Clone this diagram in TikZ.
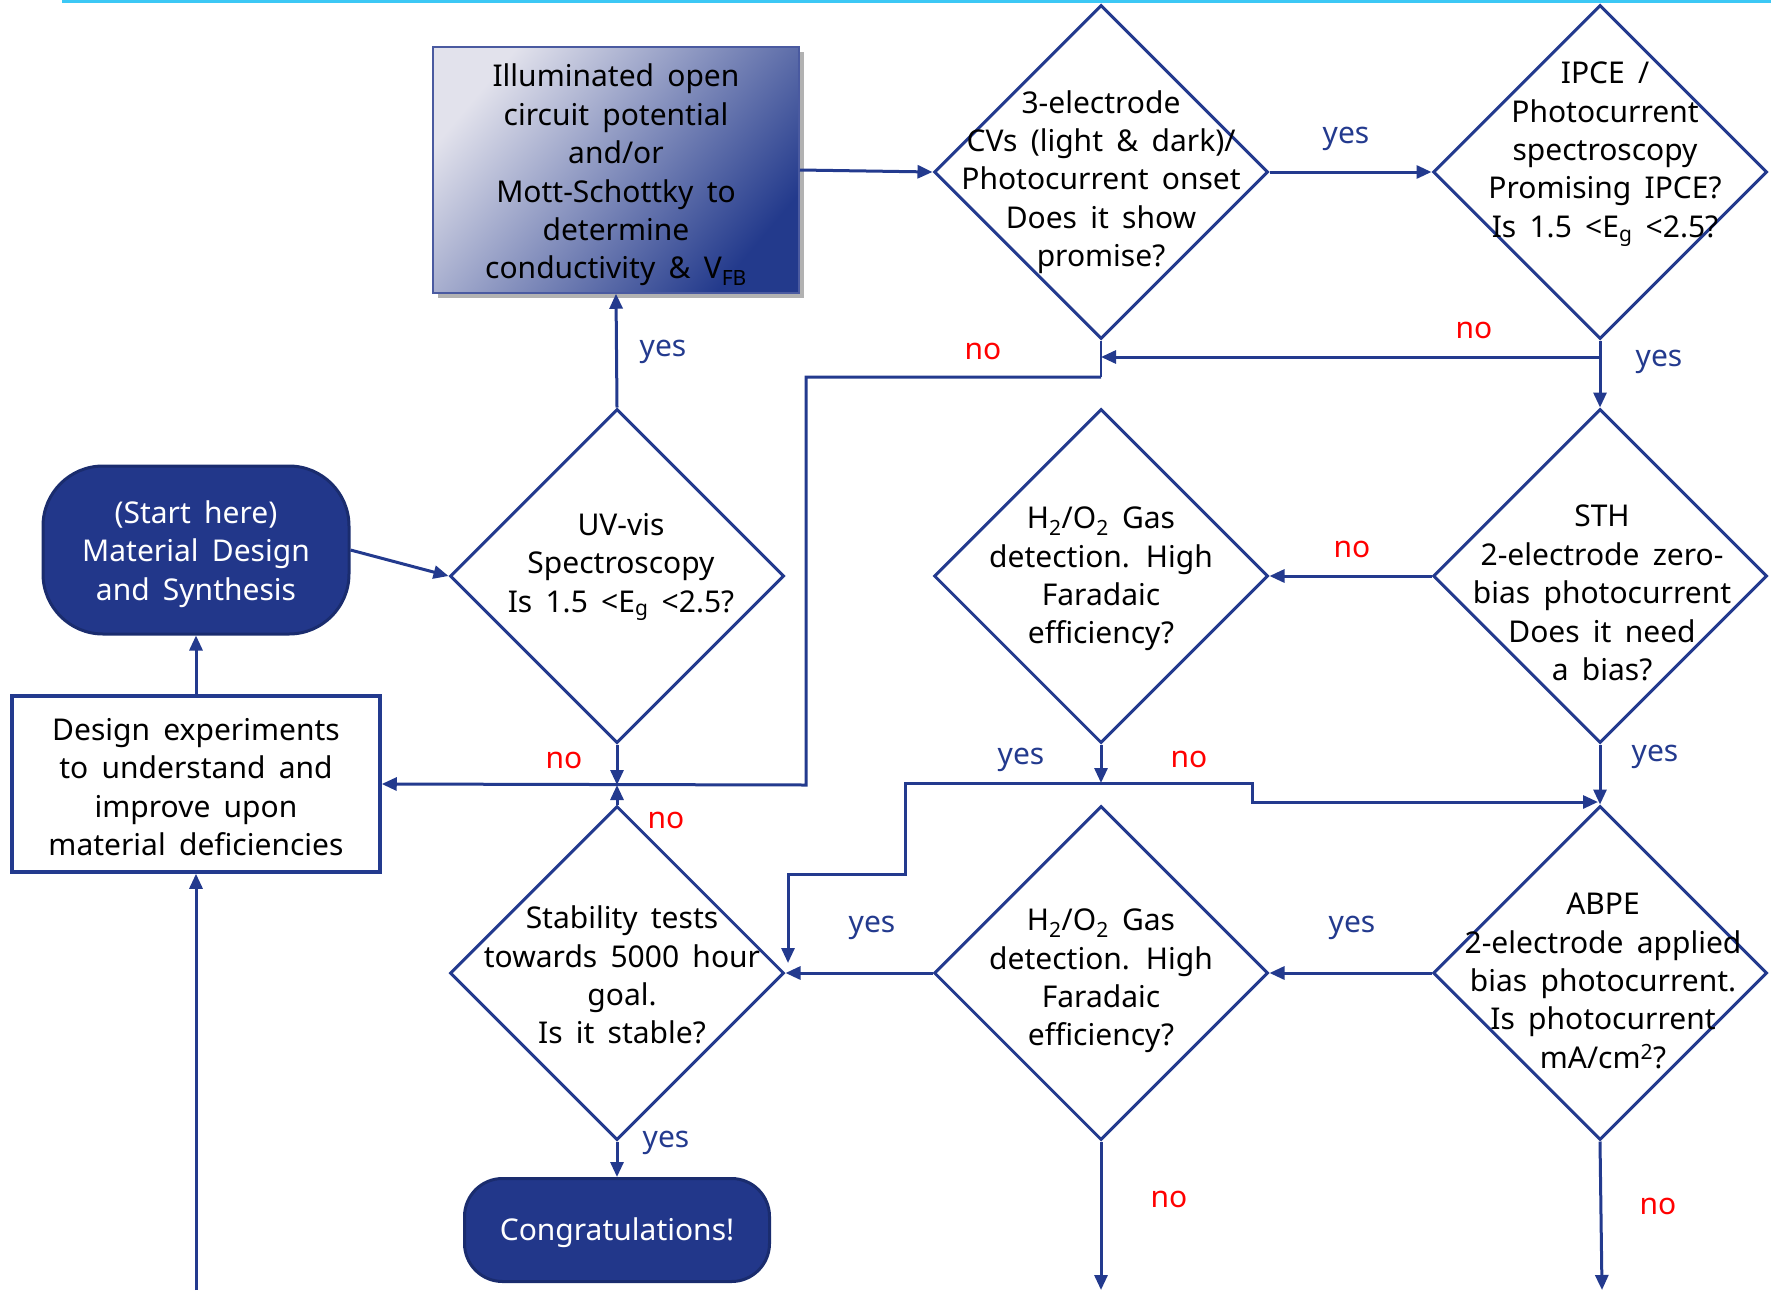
\documentclass[tikz,border=0pt]{standalone}
\usepackage{fontspec}
\setmainfont{Noto Sans}[WordSpace=1.7]
\usetikzlibrary{shapes.geometric,arrows.meta,shadows}
\definecolor{navy}{HTML}{233A8E}
\definecolor{startfill}{HTML}{22378A}
\definecolor{startdraw}{HTML}{1A2C6E}
\definecolor{nored}{HTML}{FF0000}
\definecolor{cyanline}{HTML}{3CC8F5}
\definecolor{gradlight}{HTML}{E2E2EC}
\definecolor{gradmid}{HTML}{B2B4CC}
\definecolor{graddark}{HTML}{233A8C}
\definecolor{gradedge}{HTML}{4A5AA0}
\begin{document}
\begin{tikzpicture}[x=1pt,y=-1pt,
  every node/.style={font=\fontsize{30}{38.4}\selectfont},
  dec/.style={draw=navy, line width=3pt, shape=diamond, minimum width=334pt, minimum height=334pt, inner sep=0pt},
  txt/.style={align=center, inner sep=0pt, text=black},
  term/.style={draw=startdraw, line width=3pt, fill=startfill, text=white, align=center, inner sep=0pt},
  conn/.style={draw=navy, line width=3pt, -{Triangle[length=15pt,width=13pt]}},
  yeslab/.style={text=navy, inner sep=0pt},
  nolab/.style={text=nored, inner sep=0pt},
]
\useasboundingbox (0,0) rectangle (1771,1290);
% top cyan rule
\coordinate (tl) at (62,1);
\coordinate (tr) at (1771,1);
\draw[cyanline, line width=4pt] (tl) -- (tr);

% nodes
\node[term, rounded corners=60pt, minimum width=306pt, minimum height=168pt] (start) at (196,550) {};
\node[text=white, align=center, inner sep=0pt] (starttxt) at (196,554) {(Start here)\\Material Design\\and Synthesis};

\node[draw=navy, line width=3.5pt, fill=white, minimum width=368pt, minimum height=176pt, inner sep=0pt] (design) at (196,784) {};
\node[txt] (designtxt) at (196,787) {Design experiments\\to understand and\\improve upon\\material deficiencies};

\node[term, rounded corners=38pt, minimum width=305pt, minimum height=103pt] (congr) at (617,1230) {};
\node[text=white, inner sep=0pt] (congrtxt) at (617,1233) {Congratulations!};

\node[draw=gradedge, line width=1.5pt, top color=gradlight, middle color=gradmid, bottom color=graddark, shading angle=50,
      drop shadow={shadow xshift=5pt, shadow yshift=-5pt, fill=black, opacity=0.3},
      minimum width=366pt, minimum height=246pt, inner sep=0pt] (grad) at (616,170) {};
\node[txt] (gradtxt) at (616,175) {Illuminated open\\circuit potential\\and/or\\Mott-Schottky to\\determine\\conductivity \& V\textsubscript{FB}};

\node[dec] (uv) at (617,576) {};
\node[txt] (uvtxt) at (621,567) {UV-vis\\Spectroscopy\\Is 1.5 <E\textsubscript{g} <2.5?};

\node[dec] (cv) at (1101,172) {};
\node[txt] (cvtxt) at (1101,182) {3-electrode\\CVs (light \& dark)/\\Photocurrent onset\\Does it show\\promise?};

\node[dec] (ipce) at (1600,172) {};
\node[txt] (ipcetxt) at (1605,154) {IPCE /\\Photocurrent\\spectroscopy\\Promising IPCE?\\Is 1.5 <E\textsubscript{g} <2.5?};

\node[dec] (h2a) at (1101,576) {};
\node[txt] (h2atxt) at (1101,579) {H\textsubscript{2}/O\textsubscript{2} Gas\\detection. High\\Faradaic\\efficiency?};

\node[dec] (sth) at (1600,576) {};
\node[txt] (sthtxt) at (1602,593) {STH\\2-electrode zero-\\bias photocurrent\\Does it need\\a bias?};

\node[dec] (stab) at (617,973) {};
\node[txt] (stabtxt) at (622,975) {Stability tests\\towards 5000 hour\\goal.\\Is it stable?};

\node[dec] (h2b) at (1101,973) {};
\node[txt] (h2btxt) at (1101,981) {H\textsubscript{2}/O\textsubscript{2} Gas\\detection. High\\Faradaic\\efficiency?};

\node[dec] (abpe) at (1600,973) {};
\node[txt] (abpetxt) at (1603,981) {ABPE\\2-electrode applied\\bias photocurrent.\\Is photocurrent\\mA/cm\textsuperscript{2}?};

% junction coordinates
\coordinate (m1) at (617,785);
\coordinate (j1) at (1600,357);
\coordinate (j2) at (1101,357);
\coordinate (k1) at (1101,377);
\coordinate (k2) at (806,377);
\coordinate (k3) at (806,785);
\coordinate (b0) at (196,1290);
\coordinate (h1) at (1101,783);
\coordinate (y1) at (905,783);
\coordinate (y2) at (905,874);
\coordinate (y3) at (788,874);
\coordinate (y4) at (788,963);
\coordinate (n1) at (1252,783);
\coordinate (n2) at (1252,802);
\coordinate (n3) at (1598,802);
\coordinate (bh) at (1101,1290);
\coordinate (ba) at (1602,1290);

% connectors
\draw[conn] (start.east) -- (uv.west);
\draw[conn] (uv.north) -- (grad.south);
\draw[conn] (grad.east) -- (cv.west);
\draw[conn] (cv.east) -- (ipce.west);
\draw[conn] (ipce.south) -- (sth.north);
\draw[conn] (j1) -- (j2);
\draw[navy, line width=1.5pt] (cv.south) -- (k1);
\draw[conn] (k1) -- (k2) -- (k3) -- (design.east);
\draw[conn] (uv.south) -- (m1);
\draw[conn] (stab.north) -- (m1);
\draw[conn] (design.north) -- (start.south);
\draw[conn] (b0) -- (design.south);
\draw[conn] (stab.south) -- (congr.north);
\draw[conn] (h2b.west) -- (stab.east);
\draw[conn] (abpe.west) -- (h2b.east);
\draw[conn] (sth.west) -- (h2a.east);
\draw[conn] (sth.south) -- (abpe.north);
\draw[conn] (h2a.south) -- (h1);
\draw[conn] (h1) -- (y1) -- (y2) -- (y3) -- (y4);
\draw[conn] (h1) -- (n1) -- (n2) -- (n3);
\draw[conn] (h2b.south) -- (bh);
\draw[conn] (abpe.south) -- (ba);

% labels
\node[yeslab] (l1) at (663,352) {yes};
\node[yeslab] (l2) at (1346,139) {yes};
\node[yeslab] (l3) at (1659,362) {yes};
\node[nolab] (l4) at (1474,330) {no};
\node[nolab] (l5) at (983,351) {no};
\node[nolab] (l6) at (564,760) {no};
\node[nolab] (l7) at (666,820) {no};
\node[yeslab] (l8) at (666,1143) {yes};
\node[yeslab] (l9) at (872,928) {yes};
\node[yeslab] (l10) at (1352,928) {yes};
\node[nolab] (l11) at (1352,549) {no};
\node[yeslab] (l12) at (1655,757) {yes};
\node[yeslab] (l13) at (1021,760) {yes};
\node[nolab] (l14) at (1189,759) {no};
\node[nolab] (l15) at (1169,1199) {no};
\node[nolab] (l16) at (1658,1206) {no};
\end{tikzpicture}
\end{document}
